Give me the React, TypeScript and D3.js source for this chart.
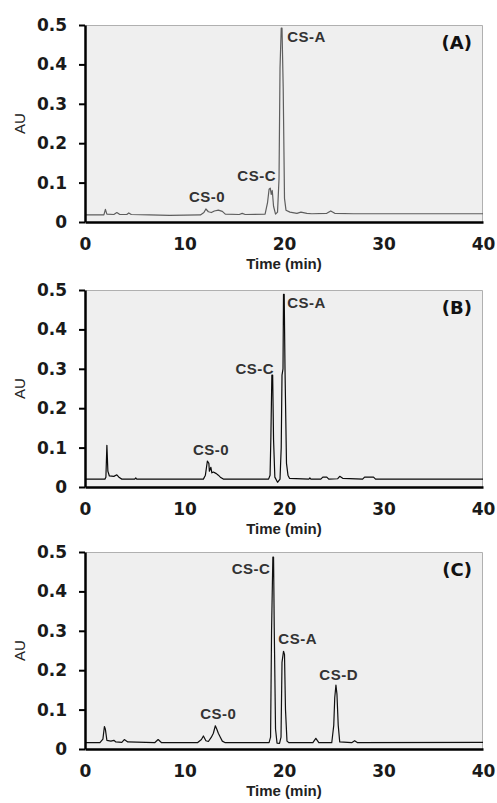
import React, { useEffect, useRef } from "react";
import * as d3 from "d3";

const yTicks = [0, 0.1, 0.2, 0.3, 0.4, 0.5];
const xTicks = [0, 10, 20, 30, 40];
const panelLetters = ["(A)", "(B)", "(C)"];

// chromatogram traces, [time (min), AU]
const traceA: [number, number][] = [
  [0, 0.018], [1.9, 0.018], [2.05, 0.032], [2.2, 0.02], [2.9, 0.019], [3.2, 0.024],
  [3.5, 0.019], [4.2, 0.019], [4.4, 0.023], [4.65, 0.019], [6.5, 0.018], [8.5, 0.017],
  [11.6, 0.018], [11.95, 0.024], [12.15, 0.033], [12.4, 0.026], [12.7, 0.024],
  [13.0, 0.028], [13.4, 0.03], [13.8, 0.027], [14.1, 0.02], [15.5, 0.019], [15.8, 0.022],
  [16.1, 0.019], [18.1, 0.02], [18.35, 0.05], [18.5, 0.083], [18.62, 0.086],
  [18.72, 0.07], [18.82, 0.08], [18.95, 0.04], [19.15, 0.02], [19.35, 0.025],
  [19.5, 0.11], [19.6, 0.39], [19.72, 0.492], [19.8, 0.492], [19.92, 0.34],
  [20.05, 0.06], [20.2, 0.03], [20.6, 0.025], [21.3, 0.022], [21.7, 0.025],
  [22.3, 0.022], [22.8, 0.021], [24.3, 0.022], [24.7, 0.028], [25.1, 0.022],
  [27, 0.021], [40, 0.021],
];

const traceB: [number, number][] = [
  [0, 0.02], [2.0, 0.02], [2.1, 0.025], [2.2, 0.106], [2.3, 0.04], [2.45, 0.028],
  [2.9, 0.027], [3.2, 0.031], [3.45, 0.024], [3.7, 0.02], [5.0, 0.02], [5.1, 0.023],
  [5.2, 0.02], [11.9, 0.02], [12.1, 0.03], [12.3, 0.066], [12.45, 0.06], [12.5, 0.04],
  [12.65, 0.05], [12.75, 0.036], [12.9, 0.038], [13.2, 0.034], [13.4, 0.03],
  [13.6, 0.025], [13.9, 0.02], [18.45, 0.02], [18.6, 0.03], [18.68, 0.125],
  [18.78, 0.284], [18.86, 0.284], [18.95, 0.12], [19.08, 0.025], [19.35, 0.012],
  [19.6, 0.02], [19.72, 0.1], [19.8, 0.284], [19.9, 0.3], [19.95, 0.489],
  [20.02, 0.489], [20.1, 0.3], [20.25, 0.06], [20.4, 0.03], [20.55, 0.022],
  [22.5, 0.02], [22.6, 0.023], [22.7, 0.02], [23.7, 0.02], [23.9, 0.025], [24.3, 0.025],
  [24.5, 0.02], [25.4, 0.021], [25.6, 0.027], [25.9, 0.022], [27.9, 0.02], [28.1, 0.025],
  [29.0, 0.025], [29.2, 0.02], [40, 0.02],
];

const traceC: [number, number][] = [
  [0, 0.016], [1.5, 0.016], [1.8, 0.025], [1.95, 0.057], [2.05, 0.05], [2.2, 0.022],
  [2.6, 0.02], [2.9, 0.022], [3.1, 0.018], [3.7, 0.017], [3.95, 0.024], [4.3, 0.018],
  [7.0, 0.016], [7.35, 0.024], [7.7, 0.016], [11.3, 0.016], [11.7, 0.024], [11.9, 0.033],
  [12.15, 0.021], [12.4, 0.019], [12.7, 0.03], [12.9, 0.04], [13.1, 0.059], [13.25, 0.05],
  [13.4, 0.04], [13.6, 0.03], [13.8, 0.02], [14.1, 0.016], [18.5, 0.016], [18.65, 0.03],
  [18.75, 0.3], [18.88, 0.487], [18.95, 0.487], [19.02, 0.307], [19.15, 0.05],
  [19.3, 0.015], [19.55, 0.014], [19.7, 0.03], [19.8, 0.22], [19.95, 0.248],
  [20.05, 0.24], [20.15, 0.1], [20.3, 0.02], [20.5, 0.016], [22.9, 0.016], [23.2, 0.027],
  [23.5, 0.016], [24.8, 0.016], [25.0, 0.06], [25.1, 0.13], [25.22, 0.162],
  [25.32, 0.14], [25.45, 0.06], [25.6, 0.018], [26.8, 0.016], [27.1, 0.021],
  [27.4, 0.016], [40, 0.017],
];

// peak names: [text, time, AU, anchor]
const peaksA: [string, number, number, string][] = [
  ["CS-0", 12.26, 0.051, "middle"],
  ["CS-C", 19.2, 0.104, "end"],
  ["CS-A", 20.33, 0.457, "start"],
];
const peaksB: [string, number, number, string][] = [
  ["CS-0", 12.67, 0.081, "middle"],
  ["CS-C", 19.0, 0.286, "end"],
  ["CS-A", 20.33, 0.455, "start"],
];
const peaksC: [string, number, number, string][] = [
  ["CS-0", 13.4, 0.077, "middle"],
  ["CS-C", 18.64, 0.443, "end"],
  ["CS-A", 19.43, 0.267, "start"],
  ["CS-D", 23.55, 0.174, "start"],
];

const W = 497;
const H = 803;

export default function App() {
  const ref = useRef<SVGSVGElement>(null);

  useEffect(() => {
    const svg = d3.select(ref.current);
    svg.selectAll("*").remove();

    const panels = [
      { trace: traceA, peaks: peaksA, top: 25, color: "#5e5e5e" },
      { trace: traceB, peaks: peaksB, top: 290, color: "#0a0a0a" },
      { trace: traceC, peaks: peaksC, top: 552, color: "#111" },
    ];

    const left = 85,
      right = 483,
      ph = 197;
    const x = d3.scaleLinear().domain([0, 40]).range([left, right]);
    const y = d3.scaleLinear().domain([0, 0.5]).range([ph, 0]);
    const tickFont = "'DejaVu Sans', sans-serif";
    const textFont = "'Liberation Sans', Arial, sans-serif";

    const line = d3
      .line<[number, number]>()
      .x((d) => x(d[0]))
      .y((d) => y(d[1]));

    panels.forEach((p, i) => {
      const g = svg.append("g").attr("transform", `translate(0,${p.top})`);

      // plot area
      g.append("rect")
        .attr("x", left)
        .attr("y", y(0.5))
        .attr("width", right - left)
        .attr("height", ph)
        .attr("fill", "#efefef");
      g.append("path")
        .attr("d", `M${left},${y(0.5) + 0.5}H${right - 0.5}V${ph}`)
        .attr("fill", "none")
        .attr("stroke", "#b0b0b0")
        .attr("stroke-width", 1);

      g.append("path")
        .datum(p.trace)
        .attr("d", line)
        .attr("fill", "none")
        .attr("stroke", p.color)
        .attr("stroke-width", 1.2)
        .attr("stroke-linejoin", "round");

      // y axis
      const ya = g
        .append("g")
        .attr("transform", `translate(${left},0)`)
        .call(
          d3
            .axisLeft(y)
            .tickValues(yTicks)
            .tickSize(6)
            .tickSizeOuter(0)
            .tickPadding(12)
            .tickFormat((d) => (+d === 0 ? "0" : d3.format(".1f")(+d)))
        );
      ya.select(".domain").attr("stroke", "#000").attr("stroke-width", 2.5);
      ya.selectAll(".tick line").attr("stroke", "#000").attr("stroke-width", 2);
      ya.selectAll(".tick text")
        .attr("font-family", tickFont)
        .attr("font-weight", "bold")
        .attr("font-size", 17)
        .attr("fill", "#1a1a1a");

      // x axis
      const xa = g
        .append("g")
        .attr("transform", `translate(0,${ph})`)
        .call(d3.axisBottom(x).tickValues(xTicks).tickSize(0).tickSizeOuter(0));
      xa.select(".domain").attr("stroke", "#000").attr("stroke-width", 2.5);
      xa.selectAll(".tick text")
        .attr("y", 28)
        .attr("dy", 0)
        .attr("font-family", tickFont)
        .attr("font-weight", "bold")
        .attr("font-size", 17)
        .attr("fill", "#1a1a1a");

      g.append("text")
        .attr("transform", `translate(25,${ph / 2}) rotate(-90)`)
        .attr("text-anchor", "middle")
        .attr("font-family", textFont)
        .attr("font-size", 15)
        .attr("fill", "#222")
        .text("AU");

      g.append("text")
        .attr("x", (left + right) / 2)
        .attr("y", ph + 47)
        .attr("text-anchor", "middle")
        .attr("font-family", textFont)
        .attr("font-weight", "bold")
        .attr("font-size", 15)
        .attr("fill", "#222")
        .text("Time (min)");

      g.append("text")
        .attr("x", right - 11)
        .attr("y", 24)
        .attr("text-anchor", "end")
        .attr("font-family", tickFont)
        .attr("font-weight", "bold")
        .attr("font-size", 18)
        .attr("fill", "#111")
        .text(panelLetters[i]);

      g.selectAll(".peak")
        .data(p.peaks)
        .enter()
        .append("text")
        .attr("class", "peak")
        .attr("x", (d) => x(d[1]))
        .attr("y", (d) => y(d[2]))
        .attr("text-anchor", (d) => d[3])
        .attr("font-family", textFont)
        .attr("font-weight", "bold")
        .attr("font-size", 15)
        .attr("letter-spacing", 0.5)
        .attr("fill", "#333")
        .text((d) => d[0]);
    });
  }, []);

  return (
    <svg
      ref={ref}
      width={W}
      height={H}
      style={{ position: "absolute", left: 0, top: 0, background: "#fff" }}
    />
  );
}
